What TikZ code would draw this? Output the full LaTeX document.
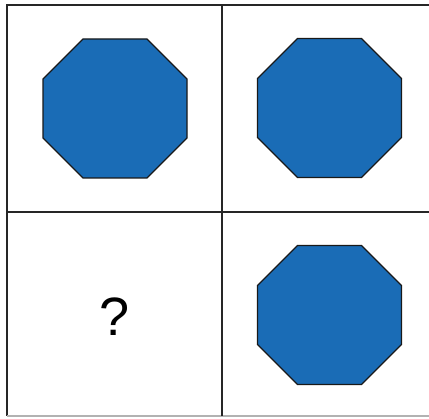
\documentclass[tikz,border=0pt]{standalone}
\usepackage{fontspec}
\setmainfont{Liberation Sans}
\usetikzlibrary{positioning}
\definecolor{octblue}{RGB}{26,108,182}
\tikzset{
  gridline/.style={line width=1.6pt,draw=black!85},
  octagon/.style={fill=octblue,draw=black!90,line width=1.3pt,line join=miter}}

\begin{document}
\begin{tikzpicture}[x=1pt,y=-1pt,
  qmark/.style={font=\fontsize{54}{60}\selectfont,inner sep=0pt}]
  \useasboundingbox (0,0) rectangle (429,419);
  \clip (0,0) rectangle (429,419);

  % grid of four cells
  \coordinate (tl) at (7,5);
  \coordinate (br) at (432,416);
  \draw[gridline] (432,5) -- (tl) -- (7,416);
  \draw[line width=1.2pt,draw=black!30] (7,416) -- (br);
  \draw[gridline] (222,5) -- (222,416);
  \draw[gridline] (7,212) -- (432,212);

  % octagons, one per filled cell
  \foreach \cx/\cy in {115/108.5, 329.5/108, 329.5/315}{
    \draw[octagon] (\cx-32,\cy-69.5) -- (\cx+32,\cy-69.5)
      -- (\cx+72,\cy-29.5) -- (\cx+72,\cy+29.5)
      -- (\cx+32,\cy+69.5) -- (\cx-32,\cy+69.5)
      -- (\cx-72,\cy+29.5) -- (\cx-72,\cy-29.5) -- cycle;
  }

  \node[qmark] (unknown) at (114.5,317) {?};
\end{tikzpicture}
\end{document}
